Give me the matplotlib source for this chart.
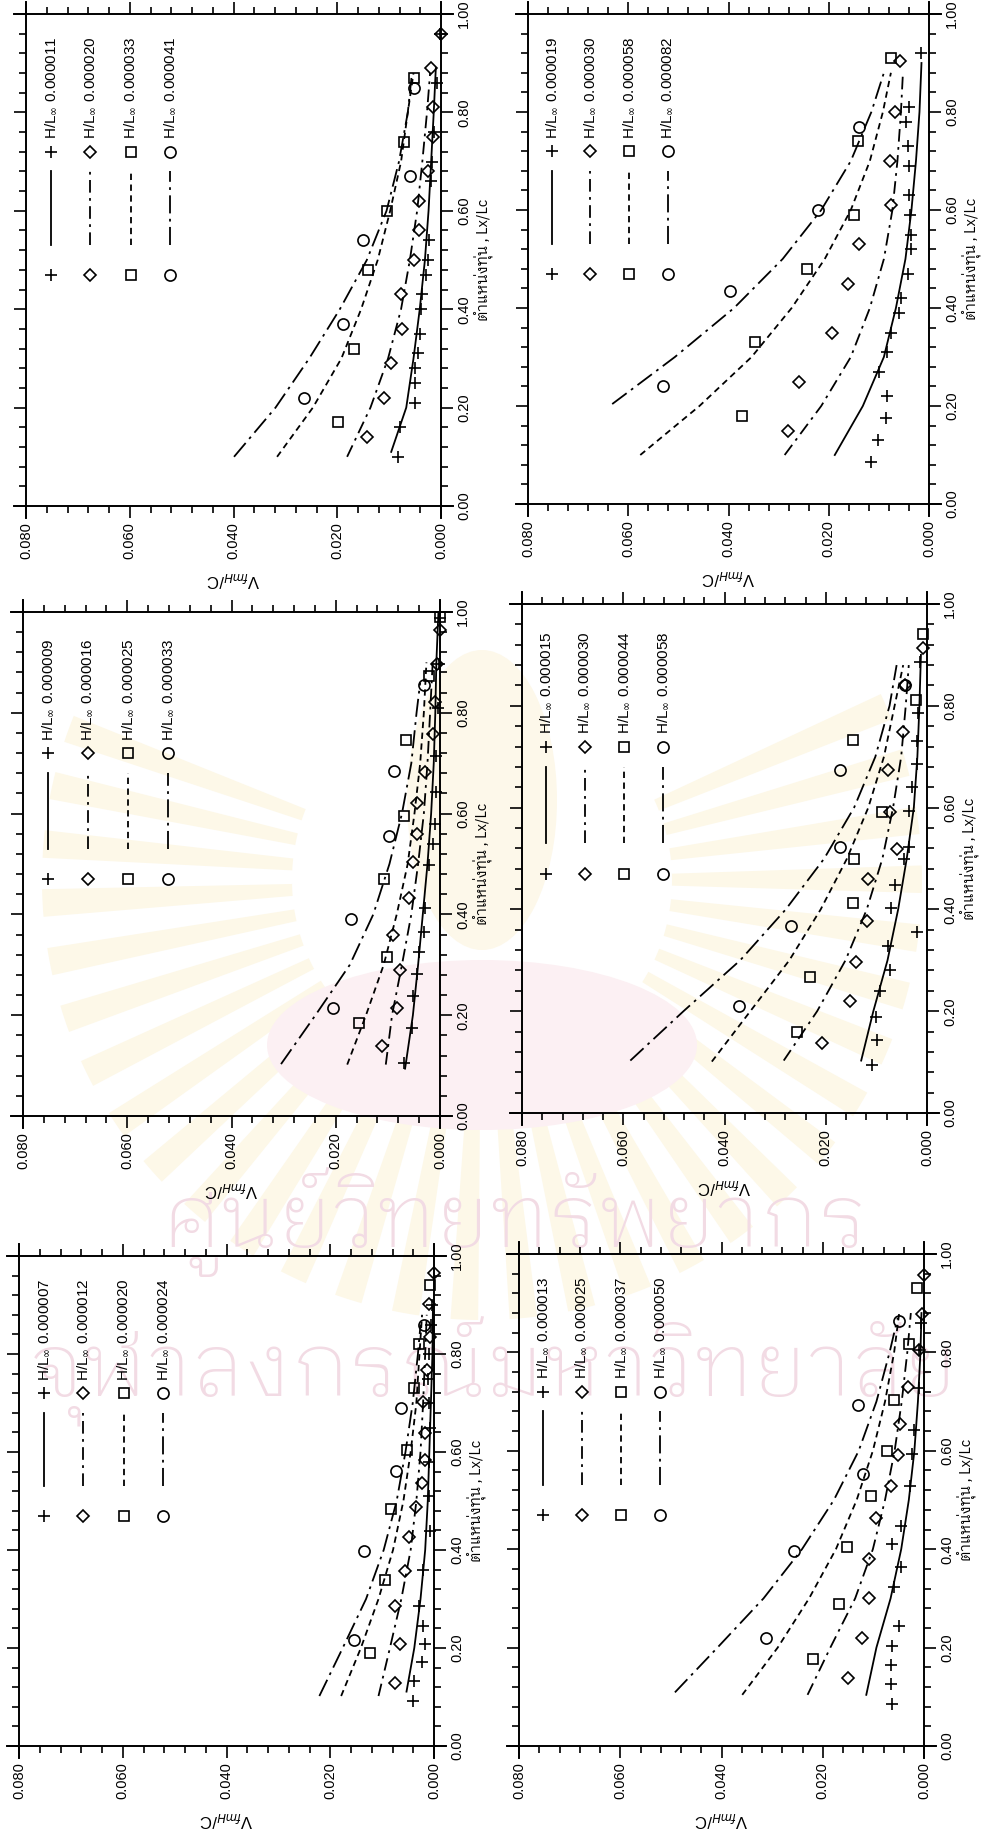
import matplotlib
matplotlib.use("Agg")
import matplotlib.pyplot as plt
from matplotlib.patches import Wedge, Ellipse
from matplotlib.ticker import MultipleLocator, FormatStrFormatter

plt.rcParams['font.family'] = ['Liberation Sans', 'IBM Plex Sans Thai Looped']
THAI = ['IBM Plex Sans Thai Looped', 'Liberation Sans']

W, H = 983, 1838

# ---- panel A ----
a_hl = ["0.000011", "0.000020", "0.000033", "0.000041"]
a_pts_lx = [[0.10, 0.16, 0.21, 0.25, 0.28, 0.31, 0.35, 0.40, 0.43, 0.47, 0.50, 0.54, 0.66, 0.70, 0.76, 0.86, 0.96],
            [0.14, 0.22, 0.29, 0.36, 0.43, 0.50, 0.56, 0.62, 0.68, 0.75, 0.81, 0.89, 0.96],
            [0.17, 0.32, 0.48, 0.60, 0.74, 0.87],
            [0.22, 0.37, 0.54, 0.67, 0.85]]
a_pts_v = [[0.0083, 0.0080, 0.0051, 0.0050, 0.0050, 0.0045, 0.0041, 0.0039, 0.0037, 0.0029, 0.0026, 0.0023, 0.0019, 0.0017, 0.0013, 0.0008, 0.0001],
           [0.0143, 0.0110, 0.0097, 0.0075, 0.0077, 0.0053, 0.0043, 0.0043, 0.0026, 0.0015, 0.0015, 0.0019, 0.0000],
           [0.0198, 0.0167, 0.0140, 0.0105, 0.0071, 0.0053],
           [0.0264, 0.0188, 0.0150, 0.0060, 0.0053]]
a_fit_lx = [[0.11, 0.2, 0.3, 0.4, 0.5, 0.6, 0.7, 0.8, 0.89],
            [0.10, 0.2, 0.3, 0.4, 0.5, 0.6, 0.7, 0.8, 0.88],
            [0.10, 0.2, 0.3, 0.4, 0.5, 0.6, 0.7, 0.8, 0.88],
            [0.10, 0.2, 0.3, 0.4, 0.5, 0.6, 0.7, 0.8, 0.87]]
a_fit_v = [[0.0096, 0.0067, 0.0053, 0.0041, 0.0031, 0.0024, 0.0019, 0.0014, 0.0010],
           [0.0181, 0.0136, 0.0102, 0.0077, 0.0060, 0.0046, 0.0036, 0.0027, 0.0021],
           [0.0316, 0.0247, 0.0192, 0.0154, 0.0122, 0.0098, 0.0077, 0.0064, 0.0053],
           [0.0399, 0.0319, 0.0254, 0.0195, 0.0143, 0.0105, 0.0081, 0.0064, 0.0057]]

# ---- panel B ----
b_hl = ["0.000019", "0.000030", "0.000058", "0.000082"]
b_pts_lx = [[0.085, 0.13, 0.175, 0.22, 0.27, 0.31, 0.35, 0.39, 0.42, 0.47, 0.52, 0.55, 0.59, 0.63, 0.69, 0.73, 0.78, 0.81, 0.92],
            [0.15, 0.25, 0.35, 0.45, 0.53, 0.61, 0.70, 0.80, 0.905],
            [0.18, 0.33, 0.48, 0.59, 0.74, 0.91],
            [0.24, 0.435, 0.60, 0.77]]
b_pts_v = [[0.0115, 0.0101, 0.0085, 0.0083, 0.0099, 0.0083, 0.0075, 0.0059, 0.0056, 0.0042, 0.0035, 0.0036, 0.0037, 0.0040, 0.0040, 0.0042, 0.0045, 0.0040, 0.0015],
           [0.0281, 0.0260, 0.0194, 0.0161, 0.0139, 0.0076, 0.0078, 0.0068, 0.0057],
           [0.0374, 0.0347, 0.0243, 0.0149, 0.0142, 0.0076],
           [0.0531, 0.0397, 0.0222, 0.0139]]
b_fit_lx = [[0.10, 0.2, 0.3, 0.4, 0.5, 0.6, 0.7, 0.8, 0.9],
            [0.10, 0.2, 0.3, 0.4, 0.5, 0.6, 0.7, 0.8, 0.88],
            [0.10, 0.2, 0.3, 0.4, 0.5, 0.6, 0.7, 0.8, 0.88],
            [0.204, 0.3, 0.4, 0.5, 0.6, 0.7, 0.8, 0.88]]
b_fit_v = [[0.0188, 0.0132, 0.0090, 0.0066, 0.0047, 0.0035, 0.0026, 0.0019, 0.0015],
           [0.0288, 0.0215, 0.0156, 0.0118, 0.0090, 0.0073, 0.0063, 0.0056, 0.0052],
           [0.0576, 0.0458, 0.0354, 0.0274, 0.0208, 0.0156, 0.0118, 0.0092, 0.0076],
           [0.0632, 0.0507, 0.0389, 0.0292, 0.0215, 0.0156, 0.0115, 0.0090]]

# ---- panel C ----
c_hl = ["0.000009", "0.000016", "0.000025", "0.000033"]
c_pts_lx = [[0.106, 0.175, 0.238, 0.281, 0.326, 0.366, 0.412, 0.498, 0.539, 0.579, 0.642, 0.714, 0.809, 0.897, 0.988],
            [0.139, 0.215, 0.289, 0.36, 0.432, 0.503, 0.559, 0.622, 0.682, 0.758, 0.821, 0.897, 0.964],
            [0.185, 0.316, 0.471, 0.596, 0.747, 0.874, 0.99],
            [0.215, 0.39, 0.556, 0.684, 0.855]]
c_pts_v = [[0.0069, 0.0053, 0.0052, 0.0045, 0.0040, 0.0031, 0.0028, 0.0021, 0.0014, 0.0010, 0.0007, 0.0007, 0.0003, 0.0001, 0.0000],
           [0.0111, 0.0083, 0.0076, 0.0090, 0.0059, 0.0052, 0.0045, 0.0045, 0.0028, 0.0014, 0.0010, 0.0005, 0.0000],
           [0.0156, 0.0101, 0.0108, 0.0069, 0.0066, 0.0021, 0.0000],
           [0.0205, 0.0171, 0.0097, 0.0088, 0.0031]]
c_fit_lx = [[0.094, 0.2, 0.3, 0.4, 0.5, 0.6, 0.7, 0.8, 0.9, 1.0],
            [0.102, 0.2, 0.3, 0.4, 0.5, 0.6, 0.7, 0.8, 0.9],
            [0.102, 0.2, 0.3, 0.4, 0.5, 0.6, 0.7, 0.8, 0.9],
            [0.103, 0.2, 0.3, 0.4, 0.5, 0.6, 0.7, 0.8, 0.86]]
c_fit_v = [[0.0067, 0.0052, 0.0042, 0.0033, 0.0024, 0.0017, 0.0012, 0.0009, 0.0007, 0.0003],
           [0.0104, 0.0092, 0.0073, 0.0055, 0.0042, 0.0031, 0.0024, 0.0019, 0.0014],
           [0.0178, 0.0142, 0.0108, 0.0083, 0.0062, 0.0049, 0.0038, 0.0031, 0.0026],
           [0.0305, 0.0239, 0.0173, 0.0128, 0.0097, 0.0073, 0.0055, 0.0045, 0.0038]]

# ---- panel D ----
d_hl = ["0.000015", "0.000030", "0.000044", "0.000058"]
d_pts_lx = [[0.095, 0.143, 0.188, 0.239, 0.281, 0.328, 0.355, 0.402, 0.448, 0.50, 0.522, 0.594, 0.64, 0.685, 0.73, 0.786, 0.887],
            [0.138, 0.221, 0.297, 0.378, 0.46, 0.518, 0.592, 0.674, 0.748, 0.841, 0.913],
            [0.159, 0.267, 0.413, 0.499, 0.591, 0.733, 0.811, 0.942],
            [0.211, 0.367, 0.522, 0.674, 0.841]]
d_pts_v = [[0.0109, 0.0099, 0.0100, 0.0092, 0.0074, 0.0078, 0.0019, 0.0071, 0.0064, 0.0045, 0.0036, 0.0036, 0.0030, 0.0019, 0.0019, 0.0017, 0.0014],
           [0.0208, 0.0153, 0.0140, 0.0119, 0.0116, 0.0060, 0.0074, 0.0078, 0.0047, 0.0044, 0.0008],
           [0.0257, 0.0231, 0.0146, 0.0144, 0.0088, 0.0146, 0.0022, 0.0008],
           [0.0371, 0.0269, 0.0172, 0.0172, 0.0044]]
d_fit_lx = [[0.103, 0.2, 0.3, 0.4, 0.5, 0.6, 0.7, 0.8, 0.9],
            [0.103, 0.2, 0.3, 0.4, 0.5, 0.6, 0.7, 0.8, 0.88],
            [0.101, 0.2, 0.3, 0.4, 0.5, 0.6, 0.7, 0.8, 0.88],
            [0.103, 0.2, 0.3, 0.4, 0.5, 0.6, 0.7, 0.8, 0.88]]
d_fit_v = [[0.0130, 0.0106, 0.0078, 0.0057, 0.0040, 0.0026, 0.0019, 0.0015, 0.0012],
           [0.0283, 0.0217, 0.0161, 0.0119, 0.0088, 0.0067, 0.0051, 0.0042, 0.0036],
           [0.0425, 0.0349, 0.0272, 0.0210, 0.0158, 0.0116, 0.0085, 0.0064, 0.0047],
           [0.0586, 0.0481, 0.0369, 0.0279, 0.0203, 0.0144, 0.0102, 0.0074, 0.0060]]

# ---- panel E ----
e_hl = ["0.000007", "0.000012", "0.000020", "0.000024"]
e_pts_lx = [[0.092, 0.132, 0.172, 0.209, 0.245, 0.285, 0.359, 0.438, 0.511, 0.58, 0.65, 0.70, 0.75, 0.80, 0.86, 0.90],
            [0.128, 0.209, 0.285, 0.357, 0.427, 0.487, 0.536, 0.583, 0.638, 0.702, 0.768, 0.834, 0.902, 0.966],
            [0.189, 0.339, 0.483, 0.604, 0.73, 0.821, 0.94],
            [0.217, 0.398, 0.562, 0.689, 0.86]]
e_pts_v = [[0.0041, 0.0038, 0.0024, 0.0017, 0.0021, 0.0028, 0.0021, 0.0007, 0.0010, 0.0010, 0.0008, 0.0010, 0.0012, 0.0010, 0.0006, 0.0004],
           [0.0076, 0.0066, 0.0076, 0.0055, 0.0048, 0.0034, 0.0024, 0.0017, 0.0017, 0.0021, 0.0014, 0.0007, 0.0010, 0.0000],
           [0.0124, 0.0094, 0.0083, 0.0052, 0.0038, 0.0028, 0.0007],
           [0.0155, 0.0134, 0.0074, 0.0064, 0.0019]]
e_fit_lx = [[0.111, 0.2, 0.3, 0.4, 0.5, 0.6, 0.7, 0.8, 0.9],
            [0.102, 0.2, 0.3, 0.4, 0.5, 0.6, 0.7, 0.8, 0.88],
            [0.102, 0.2, 0.3, 0.4, 0.5, 0.6, 0.7, 0.8, 0.88],
            [0.102, 0.2, 0.3, 0.4, 0.5, 0.6, 0.7, 0.8, 0.86]]
e_fit_v = [[0.0053, 0.0038, 0.0026, 0.0017, 0.0012, 0.0009, 0.0006, 0.0003, 0.0002],
           [0.0107, 0.0085, 0.0063, 0.0045, 0.0034, 0.0026, 0.0021, 0.0017, 0.0014],
           [0.0179, 0.0141, 0.0107, 0.0079, 0.0059, 0.0045, 0.0034, 0.0028, 0.0023],
           [0.0221, 0.0176, 0.0131, 0.0097, 0.0072, 0.0055, 0.0041, 0.0031, 0.0026]]

# ---- panel F ----
f_hl = ["0.000013", "0.000025", "0.000037", "0.000050"]
f_pts_lx = [[0.085, 0.126, 0.164, 0.204, 0.244, 0.323, 0.363, 0.41, 0.448, 0.529, 0.593, 0.643, 0.728, 0.805, 0.86],
            [0.138, 0.219, 0.30, 0.38, 0.463, 0.529, 0.591, 0.654, 0.73, 0.805, 0.879, 0.958],
            [0.177, 0.289, 0.404, 0.509, 0.599, 0.703, 0.817, 0.93],
            [0.219, 0.397, 0.552, 0.693, 0.864]]
f_pts_v = [[0.0063, 0.0066, 0.0066, 0.0063, 0.0049, 0.0059, 0.0045, 0.0063, 0.0045, 0.0028, 0.0024, 0.0019, 0.0010, 0.0009, 0.0006],
           [0.0151, 0.0122, 0.0108, 0.0108, 0.0094, 0.0066, 0.0052, 0.0047, 0.0031, 0.0009, 0.0003, 0.0000],
           [0.0220, 0.0167, 0.0153, 0.0105, 0.0073, 0.0059, 0.0030, 0.0014],
           [0.0312, 0.0256, 0.0121, 0.0130, 0.0049]]
f_fit_lx = [[0.104, 0.2, 0.3, 0.4, 0.5, 0.6, 0.7, 0.8, 0.88],
            [0.104, 0.2, 0.3, 0.4, 0.5, 0.6, 0.7, 0.8, 0.88],
            [0.104, 0.2, 0.3, 0.4, 0.5, 0.6, 0.7, 0.8, 0.88],
            [0.109, 0.2, 0.3, 0.4, 0.5, 0.6, 0.7, 0.8, 0.87]]
f_fit_v = [[0.0114, 0.0094, 0.0066, 0.0045, 0.0030, 0.0019, 0.0012, 0.0007, 0.0005],
           [0.0230, 0.0185, 0.0136, 0.0101, 0.0077, 0.0058, 0.0044, 0.0033, 0.0026],
           [0.0359, 0.0289, 0.0227, 0.0174, 0.0133, 0.0101, 0.0077, 0.0059, 0.0049],
           [0.0492, 0.0408, 0.0317, 0.0241, 0.0178, 0.0129, 0.0094, 0.0068, 0.0052]]

# panel boxes in pixels: left, right, top, bottom
boxes = {
    "A": (26, 441, 14, 506),
    "B": (528, 929, 14, 504),
    "C": (23, 440, 612, 1116),
    "D": (522, 927, 604, 1113),
    "E": (19, 434, 1256, 1746),
    "F": (519, 924, 1254, 1746),
}
panels = {
    "A": (a_hl, a_pts_lx, a_pts_v, a_fit_lx, a_fit_v),
    "B": (b_hl, b_pts_lx, b_pts_v, b_fit_lx, b_fit_v),
    "C": (c_hl, c_pts_lx, c_pts_v, c_fit_lx, c_fit_v),
    "D": (d_hl, d_pts_lx, d_pts_v, d_fit_lx, d_fit_v),
    "E": (e_hl, e_pts_lx, e_pts_v, e_fit_lx, e_fit_v),
    "F": (f_hl, f_pts_lx, f_pts_v, f_fit_lx, f_fit_v),
}

markers = [("+", 9), ("D", 6), ("s", 7.5), ("o", 8)]
styles = ["-", (0, (7, 3, 1.5, 3)), (0, (3.5, 2.5)), (0, (10, 3, 1.5, 3))]
legend_x = [0.06, 0.155, 0.252, 0.348]

fig = plt.figure(figsize=(W / 100, H / 100), dpi=100)

# faint library stamp behind the charts
bg = fig.add_axes([0, 0, 1, 1], zorder=-5)
bg.set_xlim(0, W)
bg.set_ylim(H, 0)
bg.axis("off")
for k in range(30):
    a0 = -25 + k * 7.7
    bg.add_patch(Wedge((482, 880), 440, a0, a0 + 3.6, width=250,
                       facecolor="#fdf8e8", edgecolor="none"))
bg.add_patch(Ellipse((482, 800), 150, 300, facecolor="#fdf8ea", edgecolor="none"))
bg.add_patch(Ellipse((482, 1045), 430, 170, facecolor="#fcf0f3", edgecolor="none"))
bg.text(515, 1222, "ศูนย์วิทยทรัพยากร", family=THAI, fontsize=64,
        fontweight="light", color="#f2dbe4", ha="center", va="center")
bg.text(495, 1372, "จุฬาลงกรณ์มหาวิทยาลัย", family=THAI, fontsize=64,
        fontweight="light", color="#f2dbe4", ha="center", va="center")

for key, (l, r, t, b) in boxes.items():
    hl, pts_lx, pts_v, fit_lx, fit_v = panels[key]
    ax = fig.add_axes([l / W, 1 - b / H, (r - l) / W, (b - t) / H])
    ax.set_facecolor("none")
    ax.set_xlim(0.08, 0.0)
    ax.set_ylim(0.0, 1.0)

    for i in range(4):
        m, ms = markers[i]
        ax.plot(fit_v[i], fit_lx[i], color="black", lw=1.3, ls=styles[i])
        ax.plot(pts_v[i], pts_lx[i], ls="none", marker=m, ms=ms, mfc="none",
                mec="black", mew=1.2, clip_on=False)
        # hand-built legend column, read bottom to top
        x = legend_x[i]
        ax.plot([x, x], [0.53, 0.68], transform=ax.transAxes, color="black",
                lw=1.3, ls=styles[i])
        ax.plot([x, x], [0.47, 0.72], transform=ax.transAxes, ls="none",
                marker=m, ms=ms, mfc="none", mec="black", mew=1.2)
        ax.text(x, 0.745, r"H/L$_{\infty}$ " + hl[i], transform=ax.transAxes,
                rotation=90, ha="center", va="bottom", fontsize=11)

    # frame lines run a little past the corners
    for s in ax.spines.values():
        s.set_visible(False)
    ex = 12 / (r - l)
    ey = 12 / (b - t)
    frame = dict(transform=ax.transAxes, color="black", lw=1.4, clip_on=False)
    ax.plot([-ex, 1 + ex], [0, 0], **frame)
    ax.plot([-ex, 1 + ex], [1, 1], **frame)
    ax.plot([0, 0], [-ey, 1 + ey], **frame)
    ax.plot([1, 1], [-ey, 1 + ey], **frame)

    ax.xaxis.set_major_locator(MultipleLocator(0.02))
    ax.xaxis.set_minor_locator(MultipleLocator(0.004))
    ax.xaxis.set_major_formatter(FormatStrFormatter("%.3f"))
    ax.yaxis.set_major_locator(MultipleLocator(0.2))
    ax.yaxis.set_minor_locator(MultipleLocator(0.04))
    ax.yaxis.set_major_formatter(FormatStrFormatter("%.2f"))
    ax.tick_params(which="both", direction="out", top=True, bottom=True,
                   left=True, right=True, labelleft=False, labelright=True,
                   width=1.2)
    ax.tick_params(which="major", length=8.5, labelsize=10.5, pad=3)
    ax.tick_params(which="minor", length=5)
    ax.tick_params(axis="x", labelrotation=90)
    ax.tick_params(axis="y", labelrotation=90)
    for lab in ax.get_yticklabels():
        lab.set_va("center")

    ax.set_xlabel(r"V$_{fmH}$/C", rotation=180, fontsize=12, labelpad=8)
    ax.yaxis.set_label_position("right")
    ax.set_ylabel("ตำแหน่งทุ่น , Lx/Lc", rotation=90, family=THAI,
                  fontsize=10.5, labelpad=2)

fig.savefig("out.png", dpi=100)
